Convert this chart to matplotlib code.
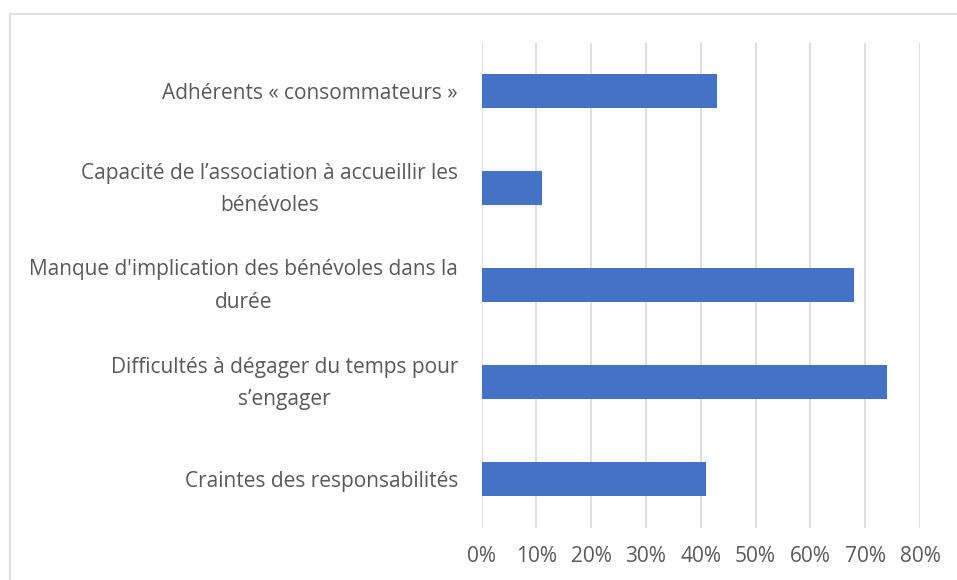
import matplotlib.pyplot as plt
from matplotlib.lines import Line2D
from matplotlib.transforms import ScaledTranslation
import numpy as np

# data, top to bottom
categories = [
    "Adhérents « consommateurs »",
    "Capacité de l’association à accueillir les\nbénévoles",
    "Manque d'implication des bénévoles dans la\ndurée",
    "Difficultés à dégager du temps pour\ns’engager",
    "Craintes des responsabilités",
]
values = [0.43, 0.11, 0.68, 0.74, 0.41]
xticks = np.arange(0, 0.81, 0.1)
xtick_labels = [f"{int(round(t*100))}%" for t in xticks]

plt.rcParams["font.family"] = ["Open Sans", "DejaVu Sans"]
txt = '#595959'

fig = plt.figure(figsize=(9.57, 5.8), dpi=100)
ax = fig.add_axes([481.5/957, 1-527.5/580, (920-481.5)/957, (527.5-42.5)/580])

y = np.arange(len(categories))
ax.barh(y, values, height=0.35, color='#4472C4', zorder=3)
ax.set_ylim(len(categories)-0.5, -0.5)
ax.set_xlim(0, 0.8)

ax.set_xticks(xticks)
ax.set_xticklabels(xtick_labels, fontsize=15, color=txt)
ax.set_yticks(y)
ax.set_yticklabels(categories, fontsize=15, color=txt,
                   multialignment='center', linespacing=1.7)
ax.tick_params(axis='y', length=0, pad=17)
ax.tick_params(axis='x', length=0, pad=13)

# two-line labels sit a bit too low, nudge them up
shift = ScaledTranslation(0, 7/100, fig.dpi_scale_trans)
for lab in ax.get_yticklabels():
    if '\n' in lab.get_text():
        lab.set_transform(lab.get_transform() + shift)

ax.grid(axis='x', color='#D9D9D9', lw=1.2, zorder=0)
for s in ax.spines.values():
    s.set_visible(False)

# outer chart frame (cut off at right and bottom)
fig.add_artist(Line2D([10/957, 1], [1-14/580, 1-14/580], color='#D9D9D9', lw=1.2))
fig.add_artist(Line2D([10/957, 10/957], [0, 1-14/580], color='#D9D9D9', lw=1.2))

fig.savefig('out.png', dpi=100)
